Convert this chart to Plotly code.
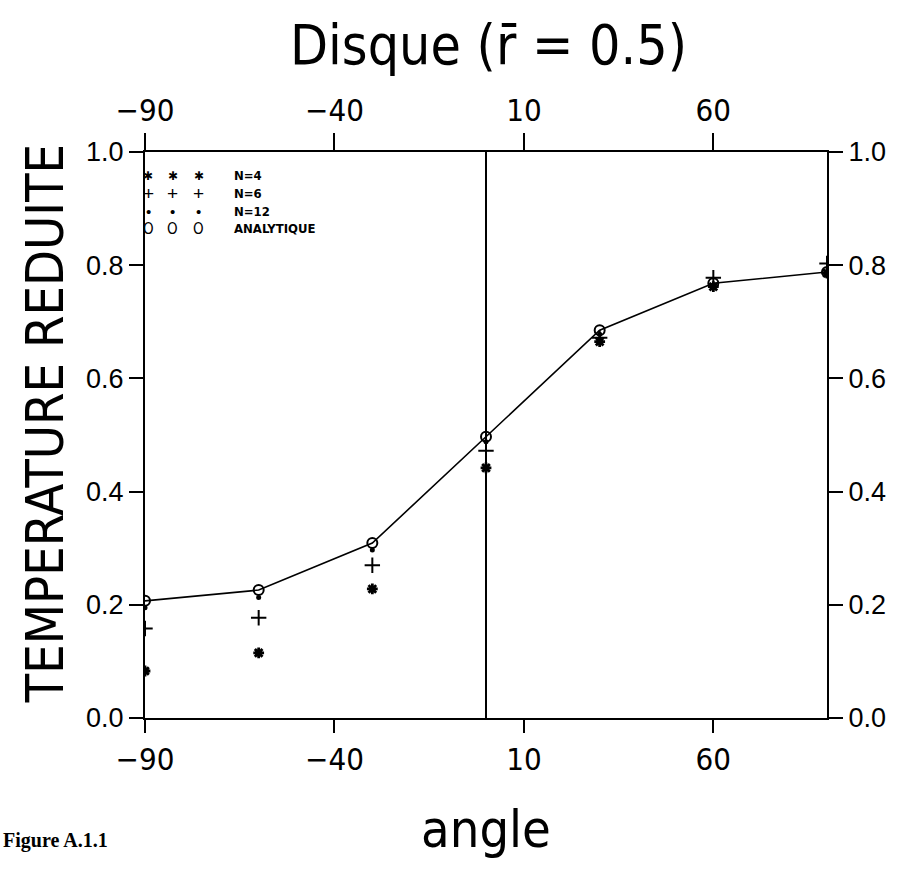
import plotly.graph_objects as go

# ---- data ----
angle = [-90, -60, -30, 0, 30, 60, 90]
analytique = [0.207, 0.226, 0.309, 0.497, 0.685, 0.768, 0.788]
n12 = [0.195, 0.213, 0.297, 0.488, 0.678, 0.764, 0.786]
n6 = [0.158, 0.177, 0.270, 0.472, 0.672, 0.778, 0.803]
n4 = [0.083, 0.115, 0.228, 0.442, 0.665, 0.762, 0.786]

x_ticks = [-90, -40, 10, 60]
y_ticks = [0.0, 0.2, 0.4, 0.6, 0.8, 1.0]
y_ticktext = ["0.0", "0.2", "0.4", "0.6", "0.8", "1.0"]

legend_labels = ["N=4", "N=6", "N=12", "ANALYTIQUE"]
legend_glyphs = ["\u2731", "+", "\u2022", "O"]

NARROW = "Liberation Sans Narrow, Arial Narrow, DejaVu Sans Condensed, sans-serif"
SANS = "Liberation Sans, Arial, Helvetica, sans-serif"
SERIF = "Liberation Serif, Times New Roman, serif"

fig = go.Figure()

fig.add_trace(go.Scatter(
    x=angle, y=analytique, mode="lines+markers", name="ANALYTIQUE",
    line=dict(color="black", width=1.6),
    marker=dict(symbol="circle-open", size=10, color="black", line=dict(width=2)),
))
fig.add_trace(go.Scatter(
    x=angle, y=n12, mode="markers", name="N=12",
    marker=dict(symbol="circle", size=5, color="black"),
))
fig.add_trace(go.Scatter(
    x=angle, y=n6, mode="markers", name="N=6",
    marker=dict(symbol="cross-thin-open", size=11, color="black", line=dict(width=2, color="black")),
))
fig.add_trace(go.Scatter(
    x=angle, y=n4, mode="markers", name="N=4",
    marker=dict(symbol="asterisk-open", size=9, color="black", line=dict(width=2.8, color="black")),
))
# invisible trace to activate the top / right axes
fig.add_trace(go.Scatter(
    x=angle, y=analytique, xaxis="x2", yaxis="y2", mode="markers",
    marker=dict(opacity=0), hoverinfo="skip", showlegend=False,
))

axis_common = dict(
    showgrid=False, showline=True, linecolor="black", linewidth=2,
    ticks="outside", tickcolor="black", tickwidth=2, color="black",
)

fig.update_layout(
    width=903, height=879,
    margin=dict(l=145, r=76, t=152, b=161),
    paper_bgcolor="white", plot_bgcolor="white",
    showlegend=False,
    xaxis=dict(
        **axis_common, range=[-90, 90], tickvals=x_ticks, ticklen=13,
        zeroline=True, zerolinecolor="black", zerolinewidth=1.6,
        tickfont=dict(family=NARROW, size=31),
        title=dict(text="angle", font=dict(family=NARROW, size=52, color="black"), standoff=34),
    ),
    xaxis2=dict(
        **axis_common, range=[-90, 90], tickvals=x_ticks, ticklen=17,
        overlaying="x", side="top", anchor="y", matches="x", zeroline=False,
        tickfont=dict(family=NARROW, size=31),
    ),
    yaxis=dict(
        **axis_common, range=[0, 1], tickvals=y_ticks, ticktext=y_ticktext, ticklen=14,
        zeroline=False, tickfont=dict(family=SANS, size=27),
    ),
    yaxis2=dict(
        **axis_common, range=[0, 1], tickvals=y_ticks, ticktext=y_ticktext, ticklen=14,
        overlaying="y", side="right", anchor="x", matches="y", zeroline=False,
        tickfont=dict(family=SANS, size=27),
    ),
)

annotations = [
    dict(text="Disque (r\u0304 = 0.5)", xref="paper", yref="paper", x=0.503, y=1.189,
         xanchor="center", yanchor="middle", showarrow=False,
         font=dict(family=NARROW, size=55, color="black")),
    dict(text="TEMPERATURE REDUITE", xref="paper", yref="paper", x=-0.147, y=0.52,
         xanchor="center", yanchor="middle", textangle=-90, showarrow=False,
         font=dict(family=NARROW, size=52, color="black")),
    dict(text="<b>Figure A.1.1</b>", xref="paper", yref="paper", x=-0.211, y=-0.216,
         xanchor="left", yanchor="middle", showarrow=False,
         font=dict(family=SERIF, size=20, color="black")),
]

# legend drawn as text inside the plot (three repeated glyphs + label)
glyph_fonts = [
    dict(family="DejaVu Sans", size=12, color="black"),
    dict(family=SANS, size=19, color="black"),
    dict(family=SANS, size=15, color="black"),
    dict(family=NARROW, size=15, color="black"),
]
row_y = [0.958, 0.926, 0.894, 0.864]
col_x = [0.0044, 0.041, 0.079]
for label, glyph, gfont, ry in zip(legend_labels, legend_glyphs, glyph_fonts, row_y):
    for cx in col_x:
        annotations.append(dict(text=glyph, xref="paper", yref="paper", x=cx, y=ry,
                                xanchor="center", yanchor="middle", showarrow=False, font=gfont))
    annotations.append(dict(text="<b>" + label + "</b>", xref="paper", yref="paper", x=0.1276, y=ry,
                            xanchor="left", yanchor="middle", showarrow=False,
                            font=dict(family=NARROW, size=13, color="black")))

fig.update_layout(annotations=annotations)

fig.write_html("out.html")
